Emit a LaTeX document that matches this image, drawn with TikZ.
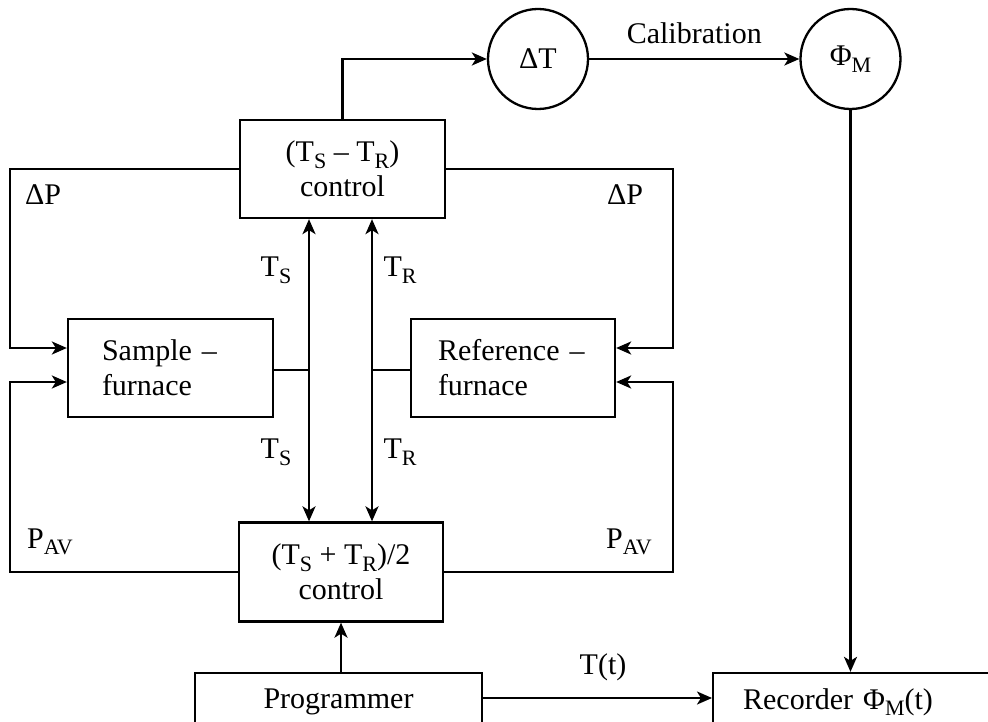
\documentclass[tikz,border=0pt]{standalone}
\usepackage{fontspec}
\usepackage{graphicx}
\setmainfont{Liberation Serif}
\usetikzlibrary{arrows.meta,positioning}
\newcommand\sbs[1]{\raisebox{-0.22em}{\fontsize{22}{22}\selectfont #1}}
\begin{document}
\begin{tikzpicture}[x=1pt,y=-1pt,
  line width=2.3pt,
  every node/.style={font=\fontsize{30}{35}\selectfont},
  box/.style={draw, rectangle, inner sep=0pt, align=center},
  circ/.style={draw, circle, inner sep=0pt, minimum size=100pt},
  arr/.style={-{Stealth[length=15pt,width=13pt,inset=4pt]}},
  darr/.style={{Stealth[length=15pt,width=13pt,inset=4pt]}-{Stealth[length=15pt,width=13pt,inset=4pt]}},
  lbl/.style={inner sep=0pt}]
\clip (0,0) rectangle (988,722);
\fill[white] (0,0) rectangle (988,722);
% nodes
\node[box, minimum width=205pt, minimum height=98pt] (ctl) at (342.5,169) {(T\sbs{S} – T\sbs{R})\\control};
\node[box, minimum width=204pt, minimum height=99pt] (bctl) at (341,572) {(T\sbs{S} + T\sbs{R})/2\\control};
\node[draw, rectangle, inner ysep=0pt, inner xsep=34pt, text width=137pt, align=left, minimum height=98pt] (sf) at (170.5,368) {Sample –\\furnace};
\node[draw, rectangle, inner ysep=0pt, inner xsep=27pt, text width=150pt, align=left, minimum height=98pt] (rf) at (513,368) {Reference –\\furnace};
\node[circ] (dT) at (538,59) {ΔT};
\node[circ] (phi) at (850.5,59) {Φ\sbs{M}};
\node[box, minimum width=287pt, minimum height=58pt] (prog) at (338.5,702) {Programmer};
\node[draw, rectangle, anchor=west, inner ysep=0pt, inner xsep=30pt, text width=260pt, align=left, minimum height=58pt] (rec) at (712,702) {Recorder Φ\sbs{M}(t)};
% coordinates
\coordinate (lx) at (10,0);
\coordinate (rx) at (673,0);
\coordinate (ts) at (309,370);
\coordinate (tr) at (372,370);
% connectors
\draw[arr] (ctl.north) |- (dT.west);
\draw[arr] (dT.east) -- node[lbl, above=14pt] {Calibration} (phi.west);
\draw[arr] (phi.south) -- (phi.south |- rec.north);
\draw[arr] (ctl.west) -| (lx |- 0,348) -- (sf.west |- 0,348);
\draw[arr] (ctl.east) -| (rx |- 0,348) -- (rf.east |- 0,348);
\draw[arr] (bctl.west) -| (lx |- 0,382) -- (sf.west |- 0,382);
\draw[arr] (bctl.east) -| (rx |- 0,382) -- (rf.east |- 0,382);
\draw (sf.east |- ts) -- (ts);
\draw (rf.west |- tr) -- (tr);
\draw[darr] (ts |- ctl.south) -- (ts |- bctl.north);
\draw[darr] (tr |- ctl.south) -- (tr |- bctl.north);
\draw[arr] (prog.north -| bctl.south) -- (bctl.south);
\draw[arr] (prog.east |- 0,698) -- (rec.west |- 0,698);
% labels
\node[lbl] (dpl) at (43,195) {ΔP};
\node[lbl] (dpr) at (625,195) {ΔP};
\node[lbl] (pavl) at (50,542) {P\sbs{AV}};
\node[lbl] (pavr) at (629,542) {P\sbs{AV}};
\node[lbl] (tsu) at (276,270) {T\sbs{S}};
\node[lbl] (tru) at (400,270) {T\sbs{R}};
\node[lbl] (tsl) at (276,452) {T\sbs{S}};
\node[lbl] (trl) at (400,452) {T\sbs{R}};
\node[lbl] (tt) at (603,667) {T(t)};
\end{tikzpicture}
\end{document}
